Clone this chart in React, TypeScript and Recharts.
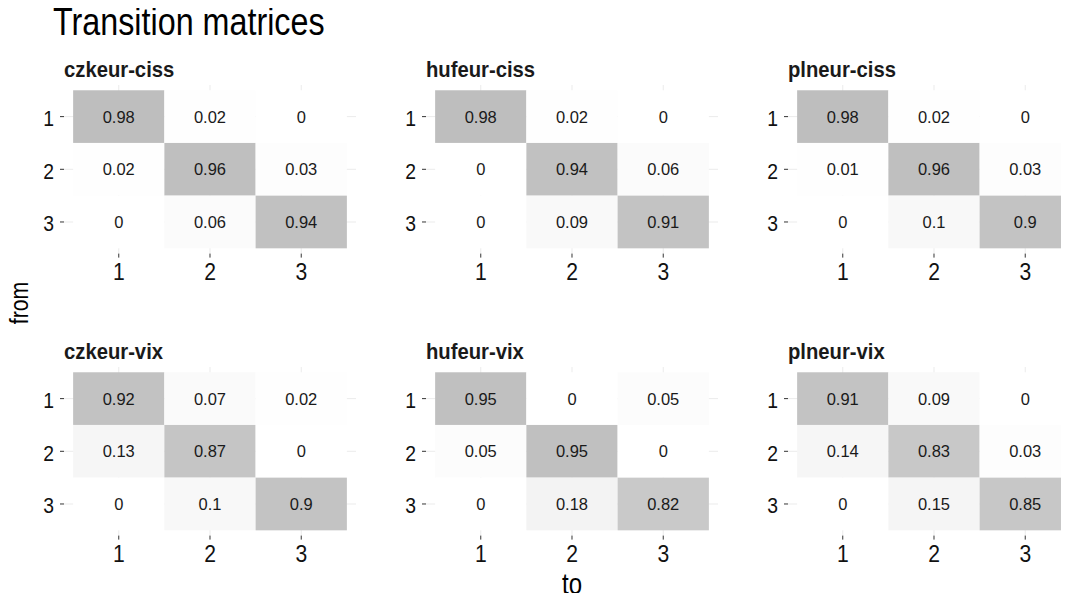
import { ScatterChart, Scatter, XAxis, YAxis, CartesianGrid } from 'recharts';

// states of the regime model, in row ("from") and column ("to") order
const states = [1, 2, 3];

const panelNames = [
  'czkeur-ciss',
  'hufeur-ciss',
  'plneur-ciss',
  'czkeur-vix',
  'hufeur-vix',
  'plneur-vix',
];

// each row: probabilities of moving from state i to states 1..3
const czkeurCiss = [
  [0.98, 0.02, 0],
  [0.02, 0.96, 0.03],
  [0, 0.06, 0.94],
];
const hufeurCiss = [
  [0.98, 0.02, 0],
  [0, 0.94, 0.06],
  [0, 0.09, 0.91],
];
const plneurCiss = [
  [0.98, 0.02, 0],
  [0.01, 0.96, 0.03],
  [0, 0.1, 0.9],
];
const czkeurVix = [
  [0.92, 0.07, 0.02],
  [0.13, 0.87, 0],
  [0, 0.1, 0.9],
];
const hufeurVix = [
  [0.95, 0, 0.05],
  [0.05, 0.95, 0],
  [0, 0.18, 0.82],
];
const plneurVix = [
  [0.91, 0.09, 0],
  [0.14, 0.83, 0.03],
  [0, 0.15, 0.85],
];

const matrices = [czkeurCiss, hufeurCiss, plneurCiss, czkeurVix, hufeurVix, plneurVix];

const PLOT_W = 292;
const PLOT_H = 168.6;
const CELL_W = PLOT_W / 3.2;
const CELL_H = PLOT_H / 3.2;
const Y_AXIS_W = 44;
const X_AXIS_H = 40;
const COL_STEP = 362;
const ROW_STEP = 282;
const FIRST_LEFT = 64;
const FIRST_TOP = 84.7;
const DOMAIN: [number, number] = [0.4, 3.6];

const SANS = '"Liberation Sans", Arial, sans-serif';

const maxValue = Math.max(...matrices.flat(2));

function fillFor(v: number) {
  // white -> grey (#bebebe), like scale_fill_gradient(low = "white", high = "grey")
  const t = v / maxValue;
  const c = Math.round(255 - (255 - 190) * t);
  return `rgb(${c},${c},${c})`;
}

function Tile(props: any) {
  const { cx, cy, payload } = props;
  if (cx == null || cy == null) return null;
  return (
    <g>
      <rect
        x={cx - CELL_W / 2}
        y={cy - CELL_H / 2}
        width={CELL_W}
        height={CELL_H}
        fill={fillFor(payload.value)}
      />
      <text
        x={cx}
        y={cy}
        textAnchor="middle"
        dominantBaseline="central"
        fontFamily={SANS}
        fontSize={16.5}
        fill="#1a1a1a"
      >
        {String(payload.value)}
      </text>
    </g>
  );
}

// axis text in the reference is a condensed face; squeeze Liberation Sans a bit
function XTick({ x, y, payload }: any) {
  return (
    <text
      transform={`translate(${x},${y + 17}) scale(0.88,1)`}
      textAnchor="middle"
      fontFamily={SANS}
      fontSize={24}
      fill="#111111"
    >
      {payload.value}
    </text>
  );
}

function YTick({ x, y, payload }: any) {
  return (
    <text
      transform={`translate(${x},${y + 1.5}) scale(0.88,1)`}
      textAnchor="end"
      dominantBaseline="central"
      fontFamily={SANS}
      fontSize={22}
      fill="#111111"
    >
      {payload.value}
    </text>
  );
}

function vLines({ xAxis, offset }: any) {
  if (xAxis && typeof xAxis.scale === 'function') return states.map((s) => xAxis.scale(s));
  return states.map((s) => offset.left + ((s - DOMAIN[0]) / (DOMAIN[1] - DOMAIN[0])) * offset.width);
}

function hLines({ yAxis, offset }: any) {
  if (yAxis && typeof yAxis.scale === 'function') return states.map((s) => yAxis.scale(s));
  return states.map((s) => offset.top + ((s - DOMAIN[0]) / (DOMAIN[1] - DOMAIN[0])) * offset.height);
}

function Panel({ name, matrix, index }: { name: string; matrix: number[][]; index: number }) {
  const col = index % 3;
  const row = Math.floor(index / 3);
  const plotLeft = FIRST_LEFT + col * COL_STEP;
  const plotTop = FIRST_TOP + row * ROW_STEP;

  const cells = matrix.flatMap((r, i) =>
    r.map((value, j) => ({ from: states[i], to: states[j], value }))
  );

  return (
    <>
      <div
        style={{
          position: 'absolute',
          left: plotLeft,
          top: plotTop - 26,
          fontFamily: SANS,
          fontWeight: 'bold',
          fontSize: 22,
          lineHeight: '22px',
          color: '#1a1a1a',
          whiteSpace: 'nowrap',
          transform: 'scaleX(0.92)',
          transformOrigin: 'left center',
        }}
      >
        {name}
      </div>
      <div style={{ position: 'absolute', left: plotLeft - Y_AXIS_W, top: plotTop }}>
        <ScatterChart
          width={Y_AXIS_W + PLOT_W}
          height={PLOT_H + X_AXIS_H}
          margin={{ top: 0, right: 0, bottom: 0, left: 0 }}
        >
          <CartesianGrid
            stroke="#ebebeb"
            strokeWidth={1}
            verticalCoordinatesGenerator={vLines}
            horizontalCoordinatesGenerator={hLines}
          />
          <XAxis
            type="number"
            dataKey="to"
            domain={DOMAIN}
            ticks={states}
            interval={0}
            height={X_AXIS_H}
            axisLine={false}
            tickSize={4}
            tickMargin={5}
            tickLine={{ stroke: '#333333' }}
            tick={<XTick />}
            allowDataOverflow
          />
          <YAxis
            type="number"
            dataKey="from"
            domain={DOMAIN}
            ticks={states}
            interval={0}
            reversed
            width={Y_AXIS_W}
            axisLine={false}
            tickSize={4}
            tickMargin={6}
            tickLine={{ stroke: '#333333' }}
            tick={<YTick />}
            allowDataOverflow
          />
          <Scatter data={cells} shape={Tile} isAnimationActive={false} />
        </ScatterChart>
      </div>
    </>
  );
}

export default function App() {
  return (
    <div
      style={{
        position: 'relative',
        width: 1069,
        height: 601,
        margin: -8,
        overflow: 'hidden',
        background: '#ffffff',
      }}
    >
      <div
        style={{
          position: 'absolute',
          left: 53,
          top: 0,
          fontFamily: SANS,
          fontSize: 38,
          lineHeight: '44px',
          color: '#000000',
          whiteSpace: 'nowrap',
          transform: 'scaleX(0.85)',
          transformOrigin: 'left center',
        }}
      >
        Transition matrices
      </div>
      {panelNames.map((name, i) => (
        <Panel key={name} name={name} matrix={matrices[i]} index={i} />
      ))}
      <div
        style={{
          position: 'absolute',
          left: 19,
          top: 303,
          transform: 'translate(-50%, -50%) rotate(-90deg) scaleX(0.85)',
          fontFamily: SANS,
          fontSize: 25,
          lineHeight: '25px',
          color: '#000000',
          whiteSpace: 'nowrap',
        }}
      >
        from
      </div>
      <div
        style={{
          position: 'absolute',
          left: 572,
          top: 584,
          transform: 'translate(-50%, -50%) scaleX(0.8)',
          fontFamily: SANS,
          fontSize: 30,
          lineHeight: '30px',
          color: '#000000',
          whiteSpace: 'nowrap',
        }}
      >
        to
      </div>
    </div>
  );
}
